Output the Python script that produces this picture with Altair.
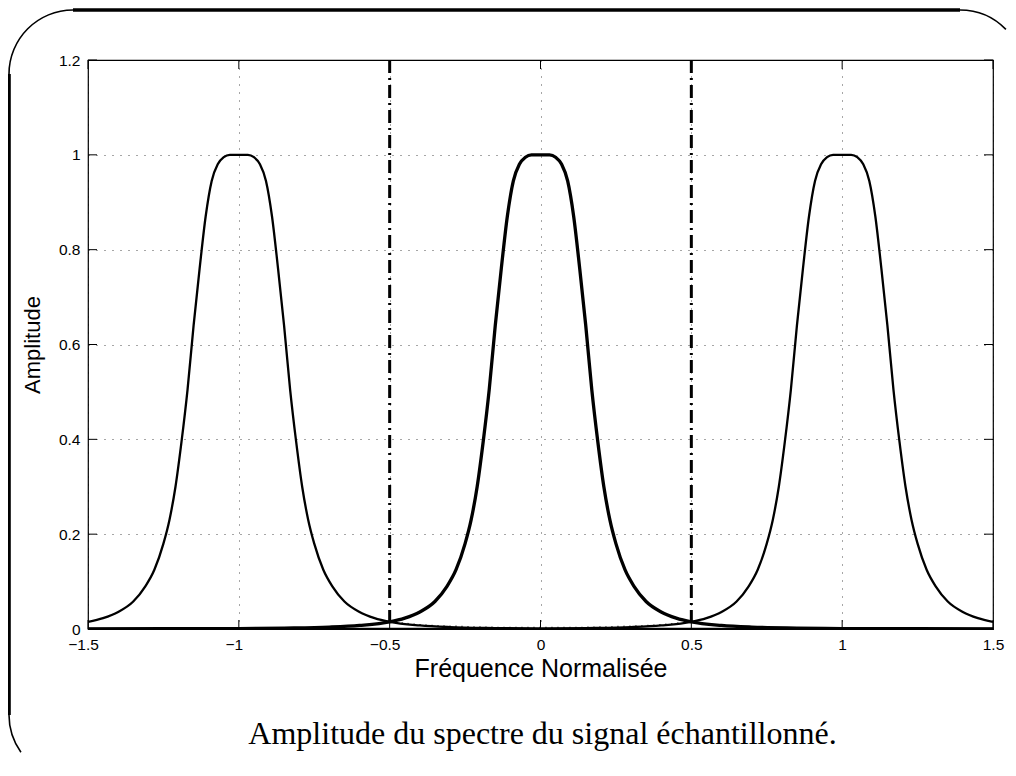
import math
import altair as alt
import pandas as pd

# ---------------- data ----------------
# one half-profile of a spectral peak (offset from its centre, amplitude)
profile_offsets = [0.00, 0.03, 0.05, 0.07, 0.09, 0.11, 0.13, 0.15, 0.17, 0.19,
                   0.21, 0.23, 0.25, 0.28, 0.31, 0.35, 0.40, 0.45, 0.50, 0.60,
                   0.70, 0.85, 1.00, 1.25, 1.50, 2.00, 2.50]
profile_values = [1.000, 1.000, 0.995, 0.980, 0.945, 0.870, 0.760, 0.640, 0.505, 0.395,
                  0.300, 0.230, 0.180, 0.125, 0.090, 0.058, 0.036, 0.023, 0.015, 0.0075,
                  0.004, 0.002, 0.001, 0.0005, 0.0003, 0.0001, 0.0]
peak_centers = [-1.0, 0.0, 1.0]
peak_names = ["gauche", "centre", "droite"]
peak_widths = [2.3, 3.3, 2.3]

# small dotted residual between the Nyquist limits
alias_x = [-0.5, -0.45, -0.4, -0.35, -0.3, -0.2, -0.1, 0.0, 0.1, 0.2, 0.3, 0.35, 0.4, 0.45, 0.5]
alias_y = [0.015, 0.012, 0.009, 0.007, 0.006, 0.004, 0.003, 0.003, 0.003, 0.004, 0.006, 0.007, 0.009, 0.012, 0.015]

nyquist = [-0.5, 0.5]
x_ticks = [-1.5, -1, -0.5, 0, 0.5, 1, 1.5]
y_ticks = [0, 0.2, 0.4, 0.6, 0.8, 1, 1.2]
x_title = "Fréquence Normalisée"
y_title = "Amplitude"
caption = "Amplitude du spectre du signal échantillonné."

# ---------------- layout ----------------
W, H = 905, 569
PAD = {"left": 80, "top": 52, "right": 15, "bottom": 126}
TICK = 9

full_off = [-o for o in reversed(profile_offsets[1:])] + profile_offsets
full_val = list(reversed(profile_values[1:])) + profile_values
rows = []
for name, c, w in zip(peak_names, peak_centers, peak_widths):
    for o, v in zip(full_off, full_val):
        x = c + o
        if -1.5 - 1e-9 <= x <= 1.5 + 1e-9:
            rows.append({"f": round(x, 6), "a": v, "peak": name, "w": w})
curves = pd.DataFrame(rows)
alias_df = pd.DataFrame({"f": alias_x, "a": alias_y})
nyq_df = pd.DataFrame({"f": nyquist})
xt_df = pd.DataFrame({"t": x_ticks})
yt_df = pd.DataFrame({"t": y_ticks})
one = pd.DataFrame({"k": [0]})

xs = alt.Scale(domain=[-1.5, 1.5], nice=False, zero=False)
ys = alt.Scale(domain=[0, 1.2], nice=False, zero=False)

FONT = "Liberation Sans"
x_axis = alt.Axis(
    values=x_ticks, format="~g", grid=True, gridDash=[1, 7], gridColor="black", gridOpacity=0.7,
    ticks=False, domain=False, labelFont=FONT, labelFontSize=15.5, labelColor="black",
    labelPadding=8, labelFlush=False, labelOverlap=False,
    labelOffset={"condition": {"test": "datum.value < 0", "value": -5}, "value": 0},
    title=x_title, titleFont=FONT, titleFontSize=25, titleFontWeight="normal",
    titleColor="black", titleX=W / 2, titleY=47, titleAlign="center",
    titleBaseline="alphabetic",
)
y_axis = alt.Axis(
    values=y_ticks, format="~g", grid=True, gridDash=[1, 7], gridColor="black", gridOpacity=0.7,
    ticks=False, domain=False, labelFont=FONT, labelFontSize=15.5, labelColor="black",
    labelPadding=8, labelFlush=False, labelOverlap=False,
    title=y_title, titleFont=FONT, titleFontSize=22, titleFontWeight="normal",
    titleColor="black", titleX=-49, titleY=H / 2, titleAngle=270, titleAlign="center",
    titleBaseline="alphabetic",
)

lines = alt.Chart(curves).mark_line(interpolate="monotone", color="black", clip=True).encode(
    x=alt.X("f:Q", scale=xs, axis=x_axis),
    y=alt.Y("a:Q", scale=ys, axis=y_axis),
    detail="peak:N",
    strokeWidth=alt.StrokeWidth("w:Q", scale=None),
)

alias = alt.Chart(alias_df).mark_line(color="black", strokeDash=[1, 5], strokeWidth=1.5).encode(
    x=alt.X("f:Q", scale=xs), y=alt.Y("a:Q", scale=ys)
)

nyq = alt.Chart(nyq_df).mark_rule(color="black", strokeWidth=3, strokeDash=[13, 5, 2, 5]).encode(
    x=alt.X("f:Q", scale=xs)
)

tick_b = alt.Chart(xt_df).mark_rule(color="black", strokeWidth=1).encode(
    x=alt.X("t:Q", scale=xs), y=alt.value(H), y2=alt.value(H - TICK))
tick_t = alt.Chart(xt_df).mark_rule(color="black", strokeWidth=1).encode(
    x=alt.X("t:Q", scale=xs), y=alt.value(0), y2=alt.value(TICK))
tick_l = alt.Chart(yt_df).mark_rule(color="black", strokeWidth=1).encode(
    y=alt.Y("t:Q", scale=ys), x=alt.value(0), x2=alt.value(TICK))
tick_r = alt.Chart(yt_df).mark_rule(color="black", strokeWidth=1).encode(
    y=alt.Y("t:Q", scale=ys), x=alt.value(W), x2=alt.value(W - TICK))

# decorative rounded frame around the figure (thin arcs at the corners, thick top/left edges)
R = 64
PI = math.pi
def corner(cx, cy, t1, t2):
    return alt.Chart(one).mark_arc(radius=R + 0.8, radius2=R - 0.8, theta=t1, theta2=t2,
                                   color="black", clip=False).encode(
        x=alt.value(cx), y=alt.value(cy))

c_tl = corner(-79 + R, -50 + R, 1.5 * PI, 2 * PI)
c_tr = corner(936 - R, -50 + R, 0, 0.8)
c_bl = corner(-79 + R, 719 - R, PI + 0.95, 1.5 * PI)
frame_top = alt.Chart(one).mark_rule(color="black", strokeWidth=3.4, clip=False).encode(
    x=alt.value(-79 + R), x2=alt.value(936 - R), y=alt.value(-50))
frame_left = alt.Chart(one).mark_rule(color="black", strokeWidth=3.6, clip=False).encode(
    x=alt.value(-79), y=alt.value(-50 + R), y2=alt.value(719 - R))

cap = alt.Chart(one).mark_text(font="Liberation Serif", fontSize=32, align="center",
                               baseline="alphabetic", color="black", clip=False).encode(
    x=alt.value(454.5), y=alt.value(684), text=alt.value(caption))

chart = alt.layer(
    c_tl, c_tr, c_bl, frame_top, frame_left,
    alias, lines, nyq, tick_b, tick_t, tick_l, tick_r, cap
).properties(
    width=W, height=H, autosize=alt.AutoSizeParams(type="none"), padding=PAD,
    background="white",
).configure_view(stroke="black", strokeWidth=1.2)

chart.save("out.html", embed_options={"renderer": "svg", "actions": False})
